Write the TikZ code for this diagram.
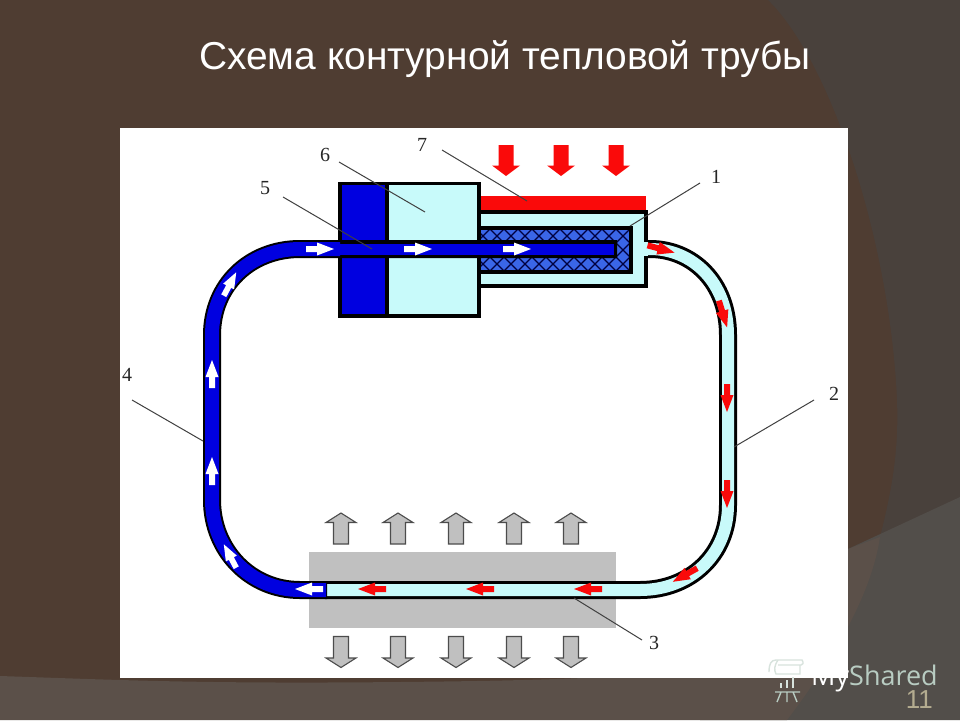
\documentclass[tikz,border=0pt]{standalone}
\usepackage{fontspec}
\setmainfont{Liberation Serif}
\newfontfamily\titlefont{Liberation Sans}
\newfontfamily\markfont{Open Sans}
\definecolor{bgbrown}{HTML}{4F3D32}
\definecolor{bgdark}{HTML}{49413C}
\definecolor{bglight}{HTML}{5B5049}
\definecolor{bggray}{HTML}{524E4A}
\definecolor{pale}{HTML}{C8FAFA}
\definecolor{deepblue}{HTML}{0000E0}
\definecolor{wickblue}{HTML}{3A66E8}
\definecolor{graybar}{HTML}{C0C0C0}
\definecolor{pipered}{HTML}{FA0A0A}
\definecolor{numcol}{HTML}{B4AC90}
\definecolor{markcol}{HTML}{B8CCC2}
\tikzset{
  numlabel/.style={font=\fontsize{20}{20}\selectfont,text=black!85,inner sep=0pt},
  leader/.style={draw=black!75,line width=1pt},
  outline/.style={draw=black,line width=3.2pt},
  smallarrow/.pic={\fill[pic actions] (-14,-3) -- (-3,-3) -- (-3,-6.5) -- (14,0) -- (-3,6.5) -- (-3,3) -- (-14,3) -- cycle;},
  downblock/.pic={\filldraw[pic actions,draw=black!70,line width=1.1pt,line join=miter] (-15.5,-7.5) -- (6,-7.5) -- (6,-15) -- (15.5,0) -- (6,15) -- (6,7.5) -- (-15.5,7.5) -- cycle;},
  hotblock/.pic={\fill[pic actions] (-15.5,-7.5) -- (5,-7.5) -- (5,-14) -- (15.5,0) -- (5,14) -- (5,7.5) -- (-15.5,7.5) -- cycle;},
}
\begin{document}
\begin{tikzpicture}[x=1pt,y=-1pt]
\useasboundingbox (0,0) rectangle (960,720);
% background
\fill[bgbrown] (0,0) rectangle (960,720);
\fill[bgdark] (768,0) .. controls (830,60) and (890,240) .. (897,400) .. controls (899,450) and (892,490) .. (880,537) -- (960,497) -- (960,0) -- cycle;
\fill[bggray] (848,549) -- (960,497) -- (960,720) -- (700,720) -- (700,660) -- cycle;
\fill[bglight] (0,676) .. controls (120,680) and (200,684) .. (400,682) .. controls (600,680) and (750,675) .. (848,640) -- (848,549) -- (880,537) .. controls (872,590) and (840,650) .. (787,720) -- (0,720) -- cycle;
% white panel
\fill[white] (120,128) rectangle (848,678);
% cooling block and heater
\fill[graybar] (309,552) rectangle (616,628);
\fill[pipered] (479,196) rectangle (646,210);
% evaporator shell
\filldraw[fill=pale,outline] (479,212) -- (646,212) -- (646,286) -- (479,286) -- cycle;
% wick
\fill[wickblue] (479,228) rectangle (631,272);
\begin{scope}
\clip (479,229) rectangle (630,271);
\foreach \k in {-60,-46,...,170}{
  \draw[black!75!blue,line width=1.1pt] (480+\k,229) -- ++(42,42);
  \draw[black!75!blue,line width=1.1pt] (480+\k,271) -- ++(42,-42);
}
\end{scope}
\draw[outline] (479,228) -- (631,228) -- (631,272) -- (479,272);
% condenser block
\filldraw[fill=pale,outline] (340,183.5) rectangle (479,316);
\filldraw[fill=deepblue,outline] (340,183.5) rectangle (387,316);
% liquid line (pale)
\draw[black,line width=18pt] (646,249) -- (650,249) .. controls (692,249) and (728,282) .. (728,335) -- (728,505)
  .. controls (728,555) and (690,590) .. (640,590) -- (325,590);
\draw[pale,line width=12pt] (640,249) -- (650,249) .. controls (692,249) and (728,282) .. (728,335) -- (728,505)
  .. controls (728,555) and (690,590) .. (640,590) -- (325,590);
% vapour line (blue)
\draw[black,line width=18pt] (327,590) -- (300,590) .. controls (250,590) and (212,550) .. (212,500) -- (212,335)
  .. controls (212,285) and (250,249) .. (300,249) -- (617,249);
\draw[deepblue,line width=14pt] (326,590) -- (300,590) .. controls (250,590) and (212,550) .. (212,500) -- (212,335)
  .. controls (212,285) and (250,249) .. (300,249) -- (340,249);
\draw[deepblue,line width=11pt] (339,249) -- (614,249);
\fill[pale] (641,242) rectangle (648,256);
% flow arrows
\foreach \p in {320,418,517}{\pic[fill=white] at (\p,249) {smallarrow};}
\pic[fill=white,rotate=62,scale=0.95] at (230,284) {smallarrow};
\pic[fill=white,rotate=90] at (212,374) {smallarrow};
\pic[fill=white,rotate=90] at (212,471) {smallarrow};
\pic[fill=white,rotate=118,scale=0.95] at (230,556) {smallarrow};
\pic[fill=white,rotate=180] at (309,589) {smallarrow};
\pic[fill=pipered,rotate=180] at (372,589) {smallarrow};
\pic[fill=pipered,rotate=180] at (480,589) {smallarrow};
\pic[fill=pipered,rotate=180] at (588,589) {smallarrow};
\pic[fill=pipered,rotate=209] at (685,575) {smallarrow};
\pic[fill=pipered,rotate=270] at (727,494) {smallarrow};
\pic[fill=pipered,rotate=270] at (727,398) {smallarrow};
\pic[fill=pipered,rotate=287] at (723,314) {smallarrow};
\pic[fill=pipered,rotate=-15] at (661,249) {smallarrow};
% heat arrows
\foreach \p in {506,561,616}{\pic[fill=pipered,rotate=270] at (\p,160.5) {hotblock};}
\foreach \p in {341,398,456,514,571}{
  \pic[fill=graybar,rotate=90] at (\p,528.5) {downblock};
  \pic[fill=graybar,rotate=270] at (\p,652) {downblock};
}
% labels and leaders
\node[numlabel] (n7) at (422,145) {7};
\node[numlabel] (n6) at (325,155) {6};
\node[numlabel] (n5) at (265,188) {5};
\node[numlabel] (n1) at (716,177) {1};
\node[numlabel] (n4) at (127,375) {4};
\node[numlabel] (n2) at (834,394) {2};
\node[numlabel] (n3) at (654,643) {3};
\coordinate (e7) at (527,201);
\coordinate (e6) at (425,212);
\coordinate (e5) at (372,249);
\coordinate (e1) at (630,226);
\coordinate (e4) at (203,441);
\coordinate (e2) at (734,447);
\coordinate (e3) at (574,598);
\coordinate (s7) at (442,150);
\coordinate (s6) at (339,162);
\coordinate (s5) at (283,197);
\coordinate (s1) at (700,183);
\coordinate (s4) at (132,400);
\coordinate (s2) at (814,400);
\coordinate (s3) at (642,640);
\foreach \k in {7,6,5,1,4,2,3}{\draw[leader] (s\k) -- (e\k);}
% title
\node[font=\titlefont\fontsize{38.9}{39}\selectfont,text=white,anchor=base west,inner sep=0pt] (title) at (199,69) {Схема контурной тепловой трубы};
% watermark and slide number
\node[font=\markfont\fontsize{27}{27}\selectfont,text=markcol,anchor=base west,inner sep=0pt] (mark) at (811,685) {\textcolor{white}{My}Shared};
\node[font=\titlefont\fontsize{26}{26}\selectfont,text=numcol,anchor=base east,inner sep=0pt] (num) at (933,708) {11};
\begin{scope}[draw=markcol!55!white,line width=1.4pt]
\draw (769,672) .. controls (769,664) and (771,660) .. (776,660) -- (802,660) .. controls (804,663) and (803,665) .. (801,665) -- (778,665) (778,660) .. controls (774,666) and (774,670) .. (776,674) -- (800,674) -- (800,665);
\draw[line width=2.4pt] (781,688) -- (781,683) (787,688) -- (787,680) (793,688) -- (793,677);
\end{scope}
\draw[draw=markcol,line width=1.4pt] (775,692) -- (800,692) (787,692) -- (787,702) (781,692) -- (777,702) (793,692) -- (797,702);
\end{tikzpicture}
\end{document}
